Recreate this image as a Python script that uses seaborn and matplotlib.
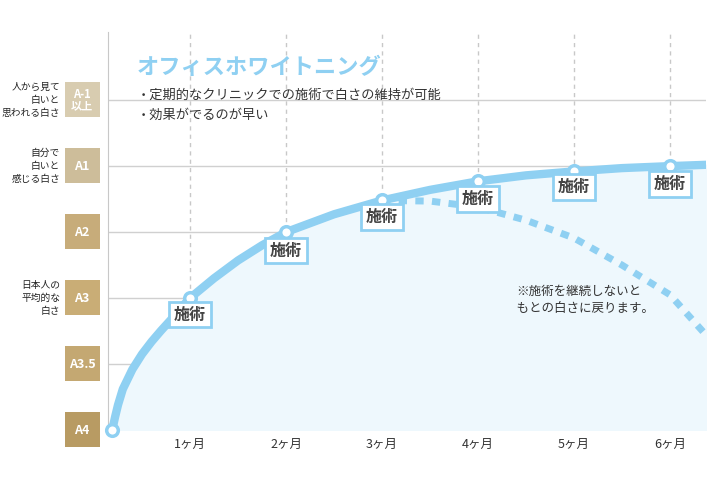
import matplotlib
matplotlib.use("Agg")
import matplotlib.pyplot as plt
import seaborn as sns
import pandas as pd
from matplotlib.patches import FancyBboxPatch

plt.rcParams["font.family"] = "Noto Sans CJK JP"

months = [1, 2, 3, 4, 5, 6]
month_labels = ["1ヶ月", "2ヶ月", "3ヶ月", "4ヶ月", "5ヶ月", "6ヶ月"]
levels = ["A4", "A3.5", "A3", "A2", "A1", "A-1\n以上"]
level_desc = {5: "人から見て\n白いと\n思われる白さ", 4: "自分で\n白いと\n感じる白さ", 2: "日本人の\n平均的な\n白さ"}

curve_x = [0.19, 0.22, 0.25, 0.3, 0.4, 0.5, 0.6, 0.7, 0.8, 0.9, 1.0, 1.25, 1.5, 1.75, 2.0, 2.5, 3.0, 3.5, 4.0, 4.5, 5.0, 5.5, 6.0, 6.375]
curve_y = [0.0, 0.2, 0.38, 0.62, 0.92, 1.15, 1.34, 1.51, 1.67, 1.84, 2.0, 2.3, 2.57, 2.8, 3.0, 3.27, 3.48, 3.64, 3.77, 3.86, 3.92, 3.97, 4.0, 4.02]
point_x = [0.19, 1, 2, 3, 4, 5, 6]
point_y = [0.0, 2.0, 3.0, 3.48, 3.77, 3.92, 4.0]
dash_x = [3.0, 3.5, 4.0, 4.5, 5.0, 5.5, 6.0, 6.375]
dash_y = [3.48, 3.47, 3.38, 3.18, 2.91, 2.5, 2.05, 1.44]
label_y = [1.75, 2.72, 3.23, 3.50, 3.68, 3.73]

fig = plt.figure(figsize=(7.2, 4.8), dpi=100)
ax = fig.add_axes([0.15, 0.104, 0.8306, 0.829])
ax.set_xlim(0.146, 6.375)
ax.set_ylim(0, 6.03)

for lv in range(1, 6):
    ax.axhline(lv, color="#d0d0d0", lw=1, zorder=0)
for m in months:
    ax.axvline(m, color="#c8c8c8", lw=1, ls=(0, (3, 3)), zorder=0)
ax.fill_between(curve_x, curve_y, 0, color="#eef8fd", zorder=1)

dfc = pd.DataFrame({"x": curve_x, "y": curve_y})
dfd = pd.DataFrame({"x": dash_x, "y": dash_y})
sns.lineplot(data=dfd, x="x", y="y", ax=ax, color="#8fd0f2", lw=5, ls=(0, (1.2, 1.2)), zorder=2)
sns.lineplot(data=dfc, x="x", y="y", ax=ax, color="#8fd0f2", lw=6, zorder=3)
ax.scatter(point_x, point_y, s=70, facecolor="white", edgecolor="#8fd0f2", lw=2.5, zorder=4, clip_on=False)

for m, ly in zip(months, label_y):
    ax.text(m, ly, "施術", ha="center", va="center", fontsize=11.5, color="#444444", fontweight="bold", zorder=5,
            bbox=dict(boxstyle="square,pad=0.3", fc="white", ec="#8fd0f2", lw=2))

for s in ["top", "right", "bottom"]:
    ax.spines[s].set_visible(False)
ax.spines["left"].set_color("#c8c8c8")
ax.set_xticks(months)
ax.set_xticklabels(month_labels, fontsize=9, color="#333333")
ax.tick_params(axis="x", length=0, pad=6)
ax.set_yticks([])
ax.set_xlabel("")
ax.set_ylabel("")

ax.text(0.45, 5.5, "オフィスホワイトニング", fontsize=16, color="#8fd0f2", fontweight="bold", va="center")
ax.text(0.45, 5.07, "・定期的なクリニックでの施術で白さの維持が可能", fontsize=9.5, color="#333333", va="center")
ax.text(0.45, 4.77, "・効果がでるのが早い", fontsize=9.5, color="#333333", va="center")
ax.text(5.05, 1.97, "※施術を継続しないと\n　もとの白さに戻ります。", fontsize=9, color="#333333", ha="center", va="center", linespacing=1.4)

cols = ["#b89b63", "#c4a872", "#c9ad76", "#c7ac7a", "#cdbd9a", "#d8ccb0"]
for i, lab in enumerate(levels):
    yc = 1 - (430 - 66 * i) / 480
    fig.patches.append(FancyBboxPatch((65 / 720, yc - 17 / 480), 35 / 720, 35 / 480, boxstyle="square,pad=0",
                                      transform=fig.transFigure, fc=cols[i], ec="none"))
    fig.text(82 / 720, yc, lab, ha="center", va="center", fontsize=8 if i == 5 else 9, color="white",
             fontweight="bold", linespacing=0.9)
    if i in level_desc:
        fig.text(60 / 720, yc, level_desc[i], ha="right", va="center", fontsize=7, color="#222222", linespacing=1.4)

fig.savefig("out.png", dpi=100, facecolor="white")
